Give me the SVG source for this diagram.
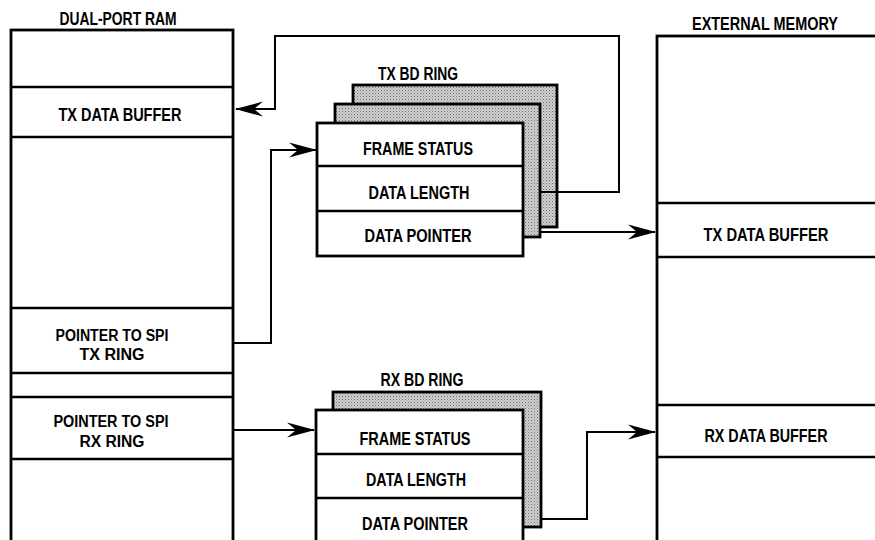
<svg xmlns="http://www.w3.org/2000/svg" width="875" height="540" viewBox="0 0 875 540">
<style>
.box{fill:#fff;stroke:#000;stroke-width:2.8}
.shade{fill:url(#stip);stroke:#000;stroke-width:2.8}
.div{stroke:#000;stroke-width:2.6}
.con{fill:none;stroke:#000;stroke-width:2}
text{font-family:"Liberation Sans",Arial,Helvetica,sans-serif;font-weight:bold;font-size:17.5px;text-anchor:middle;fill:#000}
text.two{font-size:16px}
</style>
<defs>
<pattern id="stip" width="3" height="3" patternUnits="userSpaceOnUse">
<rect width="3" height="3" fill="#d0d0d0"/>
<rect x="0" y="0" width="1" height="1" fill="#6f6f6f"/>
<rect x="1.5" y="1.5" width="1" height="1" fill="#959595"/>
</pattern>
<marker id="arr" viewBox="0 0 28 18" refX="27" refY="9" markerWidth="28" markerHeight="18" markerUnits="userSpaceOnUse" orient="auto">
<path d="M28,9 L0,1.5 L9,9 L0,16.5 Z" fill="#000"/>
</marker>
</defs>
<rect width="875" height="540" fill="#fff"/>

<g id="dual-port-ram">
<text x="118" y="25" textLength="117" lengthAdjust="spacingAndGlyphs">DUAL-PORT RAM</text>
<rect class="box" x="11" y="30" width="222" height="530"/>
<line class="div" x1="11" y1="87" x2="233" y2="87"/>
<line class="div" x1="11" y1="137" x2="233" y2="137"/>
<line class="div" x1="11" y1="308" x2="233" y2="308"/>
<line class="div" x1="11" y1="373" x2="233" y2="373"/>
<line class="div" x1="11" y1="397" x2="233" y2="397"/>
<line class="div" x1="11" y1="459" x2="233" y2="459"/>
<g id="dpr-tx-data-buffer"><text x="120" y="121" textLength="123" lengthAdjust="spacingAndGlyphs">TX DATA BUFFER</text></g>
<g id="dpr-pointer-tx"><text class="two" x="112" y="341" textLength="113" lengthAdjust="spacingAndGlyphs">POINTER TO SPI</text><text class="two" x="112" y="360" textLength="65" lengthAdjust="spacingAndGlyphs">TX RING</text></g>
<g id="dpr-pointer-rx"><text class="two" x="111" y="427" textLength="115" lengthAdjust="spacingAndGlyphs">POINTER TO SPI</text><text class="two" x="112" y="447" textLength="65" lengthAdjust="spacingAndGlyphs">RX RING</text></g>
</g>

<g id="tx-bd-ring">
<text x="418" y="80" textLength="80" lengthAdjust="spacingAndGlyphs">TX BD RING</text>
<rect class="shade" x="353" y="85" width="204" height="142"/>
<rect class="shade" x="335" y="104" width="205" height="133"/>
<rect class="box" x="317" y="123" width="206" height="133"/>
<line class="div" x1="317" y1="166" x2="523" y2="166"/>
<line class="div" x1="317" y1="211" x2="523" y2="211"/>
<text x="418" y="155" textLength="110" lengthAdjust="spacingAndGlyphs">FRAME STATUS</text>
<text x="419" y="199" textLength="101" lengthAdjust="spacingAndGlyphs">DATA LENGTH</text>
<text x="418" y="242" textLength="107" lengthAdjust="spacingAndGlyphs">DATA POINTER</text>
</g>

<g id="rx-bd-ring">
<text x="422" y="386" textLength="83" lengthAdjust="spacingAndGlyphs">RX BD RING</text>
<rect class="shade" x="333" y="392" width="208" height="135"/>
<rect class="box" x="316" y="410" width="207" height="150"/>
<line class="div" x1="316" y1="454" x2="523" y2="454"/>
<line class="div" x1="316" y1="498" x2="523" y2="498"/>
<text x="415" y="445" textLength="111" lengthAdjust="spacingAndGlyphs">FRAME STATUS</text>
<text x="416" y="486" textLength="100" lengthAdjust="spacingAndGlyphs">DATA LENGTH</text>
<text x="415" y="530" textLength="106" lengthAdjust="spacingAndGlyphs">DATA POINTER</text>
</g>

<g id="external-memory">
<text x="765" y="30" textLength="146" lengthAdjust="spacingAndGlyphs">EXTERNAL MEMORY</text>
<rect class="box" x="657" y="36" width="240" height="524"/>
<line class="div" x1="657" y1="203" x2="880" y2="203"/>
<line class="div" x1="657" y1="257" x2="880" y2="257"/>
<line class="div" x1="657" y1="405" x2="880" y2="405"/>
<line class="div" x1="657" y1="457" x2="880" y2="457"/>
<g id="em-tx-data-buffer"><text x="766" y="241" textLength="125" lengthAdjust="spacingAndGlyphs">TX DATA BUFFER</text></g>
<g id="em-rx-data-buffer"><text x="766" y="442" textLength="123" lengthAdjust="spacingAndGlyphs">RX DATA BUFFER</text></g>
</g>

<g id="connectors">
<path class="con" d="M233,343 H271 V150 H316" marker-end="url(#arr)"/>
<path class="con" d="M540,192 H619 V36 H275 V109 H236" marker-end="url(#arr)"/>
<path class="con" d="M540,232 H655" marker-end="url(#arr)"/>
<path class="con" d="M233,430 H314" marker-end="url(#arr)"/>
<path class="con" d="M541,519 H587 V432 H655" marker-end="url(#arr)"/>
</g>
</svg>
